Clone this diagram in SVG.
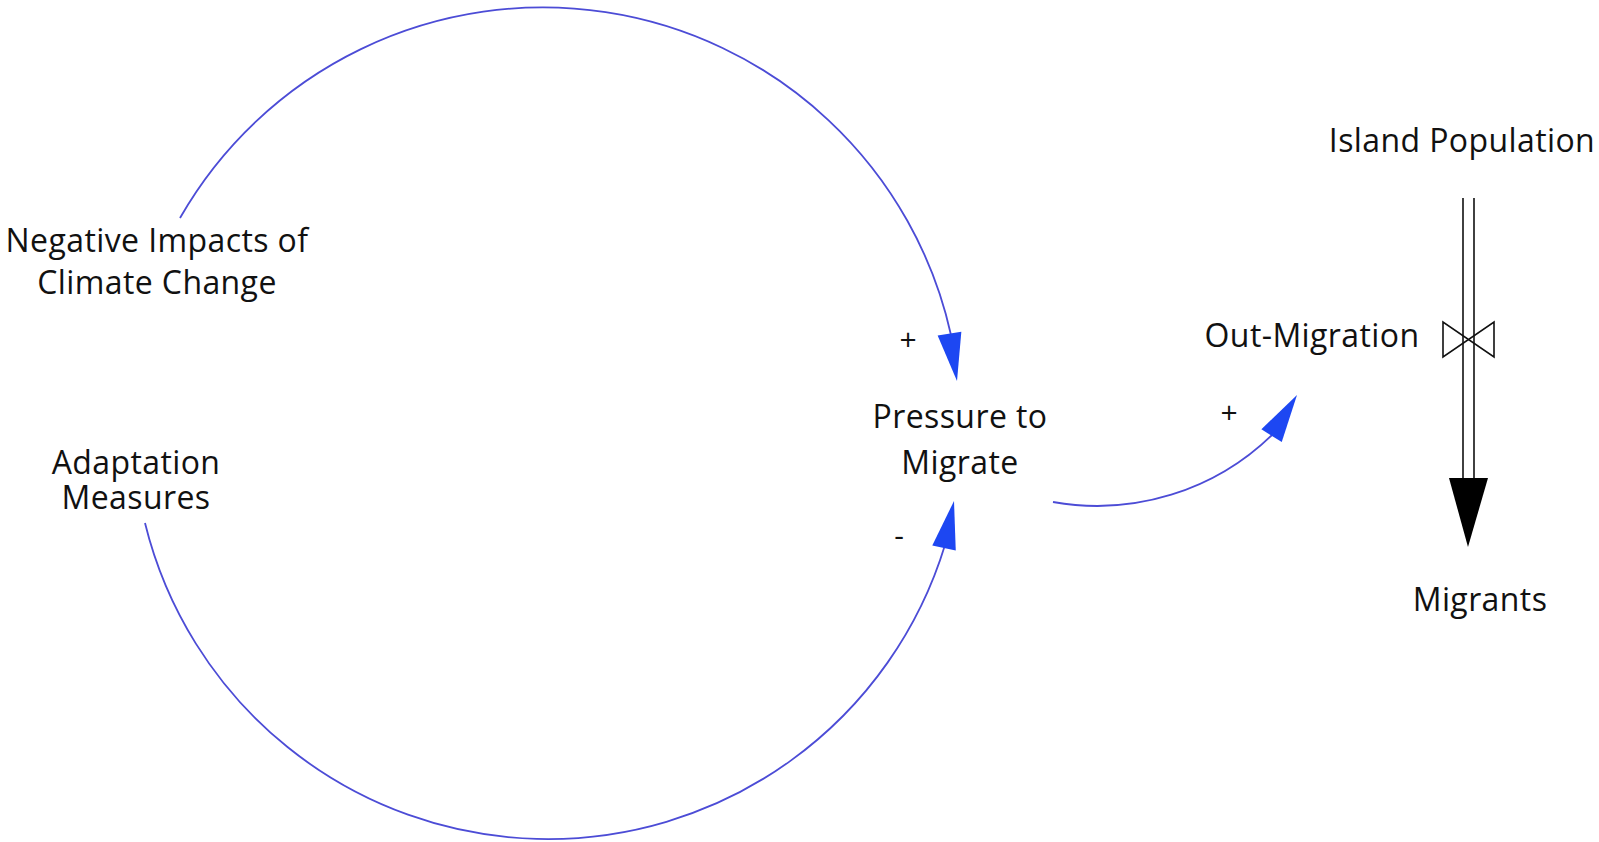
<svg xmlns="http://www.w3.org/2000/svg" xmlns:xlink="http://www.w3.org/1999/xlink" width="1599" height="842" viewBox="0 0 1599 842">
<style>
  .lbl { font-family: "Open Sans", "Noto Sans", "Liberation Sans", sans-serif; font-size: 32px; font-weight: 500; letter-spacing: 0.4px; fill: #111111; text-anchor: middle; }
  .pol { font-family: "Open Sans", "Liberation Sans", sans-serif; font-size: 30px; font-weight: 500; fill: #111111; text-anchor: middle; }
  .link { fill: none; stroke: #4c4cd6; stroke-width: 1.8; }
  .ah { fill: #1d47f2; stroke: none; }
  .pipe { stroke: #111; stroke-width: 1.6; fill: none; }
</style>
<defs>
  <path id="ah" class="ah" d="M0,0 L-48,-12 L-48,12 Z"/>
</defs>
<rect width="1599" height="842" fill="#ffffff"/>

<g id="connectors">
  <path class="link" d="M180,218 A418,418 0 0 1 951,335"/>
  <use xlink:href="#ah" href="#ah" transform="translate(957,381) rotate(81)"/>
  <path class="link" d="M145,523 A415,415 0 0 0 945,545"/>
  <use xlink:href="#ah" href="#ah" transform="translate(954,501) rotate(-78)"/>
  <path class="link" d="M1053,502 A251,251 0 0 0 1273,434"/>
  <use xlink:href="#ah" href="#ah" transform="translate(1297,395) rotate(-58)"/>
  <text class="pol" x="908" y="350">+</text>
  <text class="pol" x="899" y="546">-</text>
  <text class="pol" x="1229" y="423">+</text>
</g>

<g id="flow-out-migration">
  <line class="pipe" x1="1463" y1="198" x2="1463" y2="479"/>
  <line class="pipe" x1="1474" y1="198" x2="1474" y2="479"/>
  <polygon points="1449,478 1488,478 1468,547" fill="#000"/>
  <path class="pipe" d="M1443,322 L1443,357 L1494,322 L1494,357 Z" stroke-width="1.3"/>
  <text class="lbl" x="1312" y="347">Out-Migration</text>
</g>

<g id="node-island-population">
  <text class="lbl" x="1462" y="152">Island Population</text>
</g>

<g id="node-migrants">
  <text class="lbl" x="1480" y="611">Migrants</text>
</g>

<g id="node-negative-impacts">
  <text class="lbl" x="157" y="252">Negative Impacts of</text>
  <text class="lbl" x="157" y="294">Climate Change</text>
</g>

<g id="node-adaptation">
  <text class="lbl" x="136" y="474">Adaptation</text>
  <text class="lbl" x="136" y="509">Measures</text>
</g>

<g id="node-pressure">
  <text class="lbl" x="960" y="428">Pressure to</text>
  <text class="lbl" x="960" y="474">Migrate</text>
</g>
</svg>
